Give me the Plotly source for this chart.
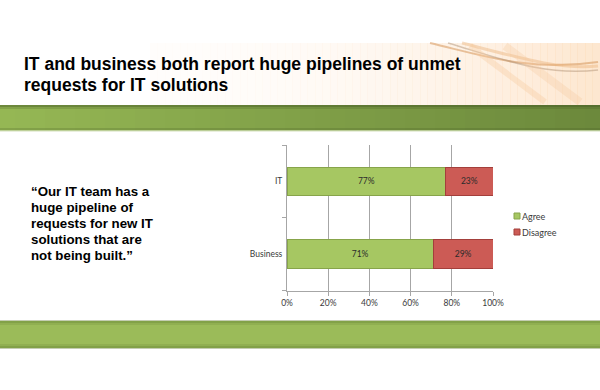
import plotly.graph_objects as go

# ---- data ----
categories = ["IT", "Business"]
agree = [0.77, 0.71]
disagree = [0.23, 0.29]
series_names = ["Agree", "Disagree"]
series_colors = ["#a6c762", "#cc5b55"]
series_edges = ["#87a44a", "#a33f3b"]
x_ticks = [0, 0.2, 0.4, 0.6, 0.8, 1.0]
title_lines = ["IT and business both report huge pipelines of unmet",
               "requests for IT solutions"]
quote_lines = ["\u201cOur IT team has a", "huge pipeline of",
               "requests for new IT", "solutions that are",
               "not being built.\u201d"]

W, H = 600, 390
def X(px): return px / W
def Y(py): return 1 - py / H

TICK_FONT = dict(family="Lato, 'Open Sans', sans-serif", size=8.5, color="#3a3a3a")

fig = go.Figure()
for name, vals, col, edge in zip(series_names, [agree, disagree], series_colors, series_edges):
    fig.add_trace(go.Bar(
        y=categories, x=vals, name=name, orientation="h",
        marker=dict(color=col, line=dict(color=edge, width=1)),
        texttemplate="%{x:.0%}", textposition="inside", insidetextanchor="middle",
        textfont=dict(family=TICK_FONT["family"], size=8.5, color="#2b2b2b"),
        hoverinfo="skip", width=0.39, showlegend=False,
    ))

shapes = []
# --- title band: white -> peach gradient on the right ---
n = 60
for i in range(n):
    x0 = 150 + (600 - 150) * i / n
    x1 = 150 + (600 - 150) * (i + 1) / n + 0.5
    t = (i + 0.5) / n
    a = 0.05 + 0.55 * t ** 2
    shapes.append(dict(type="rect", xref="paper", yref="paper", layer="below",
                       x0=X(x0), x1=X(min(x1, 600)), y0=Y(105), y1=Y(43),
                       fillcolor=f"rgba(252,214,175,{a:.3f})", line=dict(width=0)))
# swooshes
swooshes = [
    ("M {} {} C {} {} {} {} {} {}", [(430, 43), (485, 56), (530, 72), (598, 62)], "rgba(214,150,90,0.55)", 2),
    ("M {} {} C {} {} {} {} {} {}", [(448, 43), (505, 60), (545, 76), (598, 70)], "rgba(170,140,110,0.45)", 1.5),
    ("M {} {} C {} {} {} {} {} {}", [(462, 43), (520, 58), (560, 70), (598, 66)], "rgba(235,180,125,0.45)", 3),
    ("M {} {} L {} {}", [(470, 46), (545, 102)], "rgba(245,200,155,0.35)", 6),
    ("M {} {} L {} {}", [(505, 46), (580, 102)], "rgba(245,200,155,0.30)", 8),
]
for fmt, pts, col, w in swooshes:
    coords = []
    for px, py in pts:
        coords += [f"{X(px):.4f}", f"{Y(py):.4f}"]
    shapes.append(dict(type="path", xref="paper", yref="paper", layer="below",
                       path=fmt.format(*coords), line=dict(color=col, width=w)))

# --- top green band (horizontal gradient light -> dark) ---
n = 40
for i in range(n):
    t = (i + 0.5) / n
    r = int(150 + (108 - 150) * t)
    g = int(184 + (137 - 184) * t)
    b = int(85 + (60 - 85) * t)
    shapes.append(dict(type="rect", xref="paper", yref="paper", layer="below",
                       x0=X(600 * i / n), x1=X(min(600 * (i + 1) / n + 0.5, 600)), y0=Y(131), y1=Y(105),
                       fillcolor=f"rgb({r},{g},{b})", line=dict(width=0)))
for y0, y1, col in [(105, 107, "rgba(60,80,30,0.45)"), (107, 109, "rgba(60,80,30,0.2)"),
                    (128, 130, "rgba(60,80,30,0.2)"), (130, 131.5, "rgba(200,215,170,0.8)")]:
    shapes.append(dict(type="rect", xref="paper", yref="paper", layer="below",
                       x0=0, x1=1, y0=Y(y1), y1=Y(y0), fillcolor=col, line=dict(width=0)))

# --- bottom green band ---
shapes.append(dict(type="rect", xref="paper", yref="paper", layer="below",
                   x0=0, x1=1, y0=Y(348), y1=Y(321), fillcolor="#9bbb59", line=dict(width=0)))
for y0, y1, col in [(320, 321, "rgba(190,200,170,0.9)"), (321, 323, "rgba(100,130,50,0.45)"),
                    (323, 325, "rgba(100,130,50,0.2)"), (344, 346, "rgba(100,130,50,0.2)"),
                    (346, 348, "rgba(100,130,50,0.45)"), (348, 349, "rgba(190,200,170,0.9)")]:
    shapes.append(dict(type="rect", xref="paper", yref="paper", layer="below",
                       x0=0, x1=1, y0=Y(y1), y1=Y(y0), fillcolor=col, line=dict(width=0)))

annotations = []
for i, line in enumerate(title_lines):
    annotations.append(dict(text=line, xref="paper", yref="paper", x=X(22), y=Y(64 + 21 * i),
                            xanchor="left", yanchor="middle", showarrow=False,
                            font=dict(family="Liberation Sans, Arial, sans-serif", size=17.5,
                                      color="#000000", weight="bold")))
for i, line in enumerate(quote_lines):
    annotations.append(dict(text=line, xref="paper", yref="paper", x=X(29), y=Y(191 + 16 * i),
                            xanchor="left", yanchor="middle", showarrow=False,
                            font=dict(family="Liberation Sans, Arial, sans-serif", size=13.3,
                                      color="#000000", weight="bold")))

# --- legend (small squares + labels, as in the original) ---
for i, (name, col, edge) in enumerate(zip(series_names, series_colors, series_edges)):
    cy = 216 + 16 * i
    shapes.append(dict(type="rect", xref="paper", yref="paper",
                       x0=X(514), x1=X(520), y0=Y(cy + 3), y1=Y(cy - 3),
                       fillcolor=col, line=dict(color=edge, width=1)))
    annotations.append(dict(text=name, xref="paper", yref="paper", x=X(520), y=Y(cy),
                            xanchor="left", yanchor="middle", showarrow=False,
                            font=dict(family=TICK_FONT["family"], size=9, color="#3a3a3a")))

fig.update_layout(
    width=W, height=H, margin=dict(l=0, r=0, t=0, b=0, autoexpand=False),
    paper_bgcolor="white", plot_bgcolor="rgba(0,0,0,0)",
    barmode="stack", bargap=0.61, showlegend=False, hovermode=False,
    xaxis=dict(domain=[X(287), X(493)], range=[0, 1], tickvals=x_ticks, tickformat=".0%",
               showgrid=True, gridcolor="#a6a6a6", gridwidth=1,
               showline=True, linecolor="#a6a6a6", linewidth=1,
               ticks="outside", ticklen=4, tickcolor="#a6a6a6", automargin=False,
               tickfont=TICK_FONT, zeroline=False, fixedrange=True),
    yaxis=dict(domain=[Y(290.5), Y(145)], type="category",
               categoryorder="array", categoryarray=categories[::-1],
               showline=True, linecolor="#a6a6a6", linewidth=1,
               ticks="outside", ticklen=4, tickcolor="#a6a6a6", tickson="boundaries",
               automargin=False, showgrid=False, tickfont=TICK_FONT, ticklabelstandoff=2,
               fixedrange=True),
    shapes=shapes, annotations=annotations,
)

fig.write_html("out.html", config={"displayModeBar": False},
               post_script="document.body.style.margin='0';document.body.style.overflow='hidden';")
